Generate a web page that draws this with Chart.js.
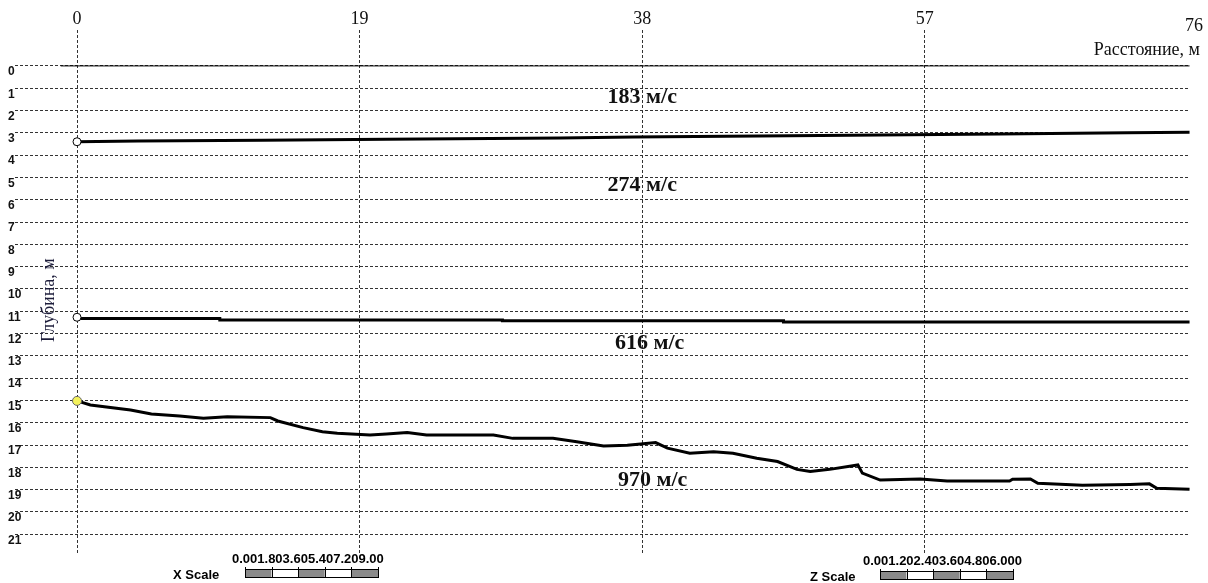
<!DOCTYPE html>
<html>
<head>
<meta charset="utf-8">
<script src="https://cdn.jsdelivr.net/npm/chart.js@4.4.1/dist/chart.umd.min.js"></script>
<style>
  html, body { margin: 0; padding: 0; background: #fff; }
  #wrap { width: 1208px; height: 583px; }
</style>
</head>
<body>
<div id="wrap"><canvas id="chart" width="1208" height="583"></canvas></div>
<script>
// axis ticks
const distTicks = [0, 19, 38, 57, 76];
const depthTicks = [0, 1, 2, 3, 4, 5, 6, 7, 8, 9, 10, 11, 12, 13, 14, 15, 16, 17, 18, 19, 20, 21];

// ground surface
const surfaceX = [-1.1, 74.8];
const surfaceY = [0, 0];

// boundary 1 (183 / 274 m/s)
const layer1X = [0, 4.1, 12.5, 20.8, 32.5, 37.4, 50, 62, 70.6, 74.8];
const layer1Y = [3.40, 3.37, 3.33, 3.29, 3.23, 3.19, 3.12, 3.05, 3.00, 2.98];

// boundary 2 (274 / 616 m/s), stepped
const layer2X = [0, 9.6, 28.6, 47.5, 66.6, 74.8];
const layer2Y = [11.27, 11.33, 11.39, 11.43, 11.48, 11.48];

// boundary 3 (616 / 970 m/s)
const layer3X = [0, 0.9, 3.6, 5.0, 6.9, 8.5, 10.1, 13.0, 13.5, 15.2, 16.5, 17.5, 19.7, 20.8, 22.2, 23.5,
  28.0, 29.3, 32.0, 33.6, 35.4, 37.0, 37.9, 38.9, 39.7, 41.2, 42.8, 44.1, 45.7, 47.1, 48.4, 49.3,
  50.6, 52.5, 52.8, 54.0, 56.7, 58.5, 62.7, 62.9, 64.1, 64.6, 66.1, 67.6, 70.8, 72.1, 72.6, 74.8];
const layer3Y = [15.02, 15.2, 15.43, 15.61, 15.7, 15.8, 15.73, 15.77, 15.92, 16.22, 16.4, 16.47, 16.55, 16.5, 16.44, 16.55,
  16.55, 16.7, 16.7, 16.85, 17.04, 17.01, 16.95, 16.89, 17.14, 17.37, 17.3, 17.37, 17.59, 17.74, 18.09, 18.19,
  18.09, 17.89, 18.26, 18.57, 18.52, 18.61, 18.61, 18.53, 18.52, 18.71, 18.76, 18.8, 18.77, 18.74, 18.94, 18.98];

// layer velocities and where their labels sit (distance, depth)
const velLabels = ['183 м/с', '274 м/с', '616 м/с', '970 м/с'];
const velX = [38, 38, 38.5, 38.7];
const velY = [1.4, 5.35, 12.42, 18.6];

const pts = (xs, ys) => xs.map((x, i) => ({ x: x, y: ys[i] }));
const firstOnly = r => ctx => ctx.dataIndex === 0 ? r : 0;

function drawScaleBar(ctx, label, numbers, lx, nx, bx, by) {
  ctx.fillStyle = '#000';
  ctx.textAlign = 'left';
  ctx.textBaseline = 'middle';
  ctx.font = 'bold 13px "Liberation Sans", Arial, sans-serif';
  ctx.fillText(numbers, nx, by - 10);
  ctx.fillText(label, lx, by + 6);
  const segW = 26.6, h = 8;
  for (let i = 0; i < 5; i++) {
    ctx.fillStyle = i % 2 === 0 ? '#8a8a8a' : '#fff';
    ctx.fillRect(bx + i * segW, by, segW, h);
  }
  ctx.strokeStyle = '#000';
  ctx.lineWidth = 1;
  ctx.strokeRect(bx + 0.5, by + 0.5, segW * 5, h);
  ctx.beginPath();
  for (let i = 0; i <= 5; i++) {
    const px = Math.round(bx + i * segW) + 0.5;
    ctx.moveTo(px, by - 2);
    ctx.lineTo(px, by + h);
  }
  ctx.stroke();
}

const overlay = {
  id: 'overlay',
  afterDatasetsDraw(chart) {
    const { ctx, chartArea, scales: { x, y } } = chart;
    ctx.save();
    ctx.fillStyle = '#111';
    ctx.font = '18px "Liberation Serif", "Times New Roman", serif';
    ctx.textBaseline = 'middle';
    distTicks.forEach(v => {
      const px = x.getPixelForValue(v);
      if (px > chart.width - 15) {
        ctx.textAlign = 'right';
        ctx.fillText(String(v), chart.width - 5, 26);
      } else {
        ctx.textAlign = 'center';
        ctx.fillText(String(v), px, 19);
      }
    });
    ctx.textAlign = 'right';
    ctx.fillText('Расстояние, м', chart.width - 8, 50);

    // depth tick labels, set a little below their grid lines
    ctx.font = 'bold 12px "Liberation Sans", Arial, sans-serif';
    ctx.textAlign = 'left';
    depthTicks.forEach(v => {
      ctx.fillText(String(v), 8, y.getPixelForValue(v) + 6);
    });

    // depth title
    ctx.save();
    ctx.font = '18px "Liberation Serif", "Times New Roman", serif';
    ctx.translate(chartArea.left + 34, y.getPixelForValue(10.5));
    ctx.rotate(-Math.PI / 2);
    ctx.textAlign = 'center';
    ctx.fillStyle = '#1c1c3a';
    ctx.fillText('Глубина, м', 0, 0);
    ctx.restore();

    // velocities
    ctx.font = 'bold 22px "Liberation Serif", "Times New Roman", serif';
    ctx.textAlign = 'center';
    ctx.fillStyle = '#111';
    velLabels.forEach((t, i) => {
      ctx.fillText(t, x.getPixelForValue(velX[i]), y.getPixelForValue(velY[i]));
    });

    drawScaleBar(ctx, 'X Scale', '0.001.803.605.407.209.00', 173, 232, 245, 569);
    drawScaleBar(ctx, 'Z Scale', '0.001.202.403.604.806.000', 810, 863, 880, 571);
    ctx.restore();
  }
};

new Chart(document.getElementById('chart'), {
  type: 'line',
  data: {
    datasets: [
      {
        label: 'surface',
        data: pts(surfaceX, surfaceY),
        borderColor: '#000',
        borderWidth: 1,
        pointRadius: 0,
      },
      {
        label: 'boundary 1',
        data: pts(layer1X, layer1Y),
        borderColor: '#000',
        borderWidth: 3,
        pointRadius: firstOnly(4),
        pointBackgroundColor: '#fff',
        pointBorderColor: '#000',
        pointBorderWidth: 1,
      },
      {
        label: 'boundary 2',
        data: pts(layer2X, layer2Y),
        stepped: 'after',
        borderColor: '#000',
        borderWidth: 3,
        pointRadius: firstOnly(4),
        pointBackgroundColor: '#fff',
        pointBorderColor: '#000',
        pointBorderWidth: 1,
      },
      {
        label: 'boundary 3',
        data: pts(layer3X, layer3Y),
        borderColor: '#000',
        borderWidth: 3,
        pointRadius: firstOnly(4.5),
        pointBackgroundColor: '#f4f25c',
        pointBorderColor: '#666',
        pointBorderWidth: 1,
      },
    ],
  },
  options: {
    responsive: false,
    animation: false,
    devicePixelRatio: 1,
    layout: { padding: { left: 8, top: 0, right: 18, bottom: 30 } },
    plugins: { legend: { display: false }, tooltip: { enabled: false } },
    scales: {
      x: {
        type: 'linear',
        position: 'top',
        min: -4.17,
        max: 74.83,
        afterBuildTicks: s => { s.ticks = distTicks.filter(v => v <= s.max).map(v => ({ value: v })); },
        afterFit: s => { s.height = 30; },
        ticks: { display: false },
        grid: { color: '#333', lineWidth: 1, drawTicks: false },
        border: { display: false, dash: [3, 2] },
      },
      y: {
        type: 'linear',
        reverse: true,
        min: -1.61,
        max: 21.84,
        afterBuildTicks: s => { s.ticks = depthTicks.map(v => ({ value: v })); },
        afterFit: s => { s.width = 7; },
        ticks: { display: false },
        grid: { color: '#333', lineWidth: 1, drawTicks: false },
        border: { display: false, dash: [3, 2] },
      },
    },
  },
  plugins: [overlay],
});
</script>
</body>
</html>
